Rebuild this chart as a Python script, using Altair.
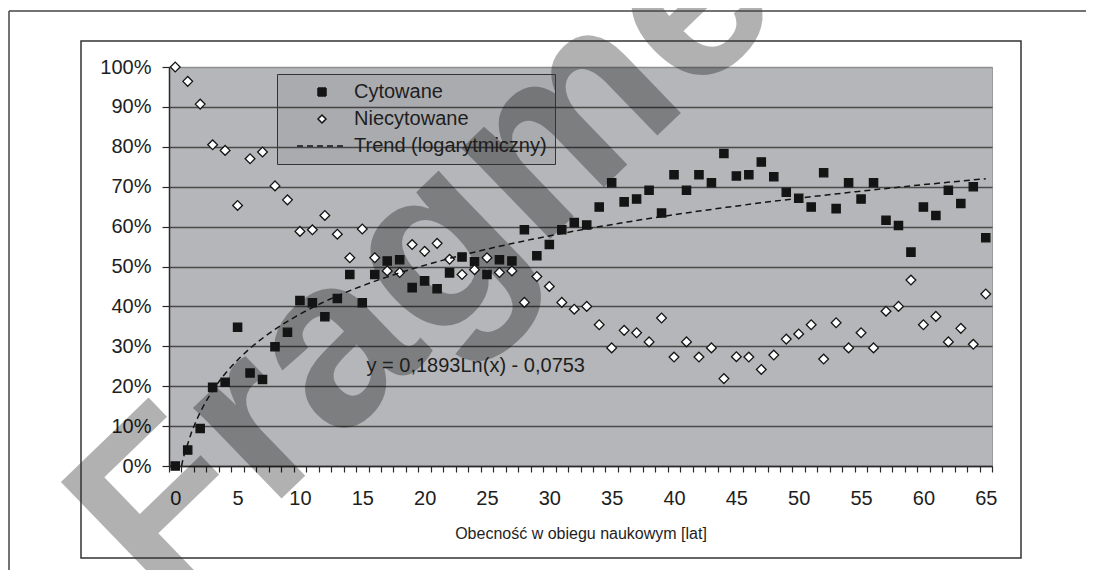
import altair as alt
import pandas as pd

# ---------------- data ----------------
YEARS = list(range(0, 66))
CYTOWANE = [0.0, 4.0, 9.4, 19.7, 21.0, 34.8, 23.3, 21.7, 29.9, 33.5,
            41.5, 40.9, 37.4, 42.0, 48.0, 40.9, 48.0, 51.4, 51.7, 44.7,
            46.4, 44.4, 48.4, 52.4, 51.2, 48.0, 51.7, 51.4, 59.2, 52.7,
            55.5, 59.2, 61.0, 60.4, 64.9, 71.0, 66.2, 66.9, 69.1, 63.4,
            73.0, 69.1, 73.0, 71.0, 78.3, 72.7, 73.0, 76.2, 72.5, 68.6,
            67.1, 64.9, 73.5, 64.5, 71.0, 66.9, 71.0, 61.6, 60.3, 53.6,
            64.9, 62.8, 69.1, 65.8, 70.0, 57.2]
NIECYTOWANE = [100.0, 96.4, 90.7, 80.5, 79.1, 65.3, 77.0, 78.7, 70.2, 66.7,
               58.8, 59.2, 62.8, 58.1, 52.2, 59.4, 52.2, 48.9, 48.5, 55.5,
               53.8, 55.8, 51.8, 48.0, 49.2, 52.2, 48.5, 48.9, 41.0, 47.5,
               45.0, 41.0, 39.3, 40.0, 35.4, 29.6, 34.0, 33.4, 31.1, 37.1,
               27.3, 31.1, 27.3, 29.6, 21.9, 27.4, 27.3, 24.2, 27.8, 31.8,
               33.1, 35.4, 26.8, 35.9, 29.6, 33.4, 29.6, 38.8, 40.0, 46.6,
               35.4, 37.5, 31.1, 34.5, 30.5, 43.1]
SERIES = ["Cytowane", "Niecytowane", "Trend (logarytmiczny)"]
EQUATION = ["y = 0,1893Ln(x) - 0,0753"]
EQ_X = [24.1]
EQ_Y = [0.25]
X_TITLE = "Obecność w obiegu naukowym [lat]"
Y_TICKS = [i / 10 for i in range(11)]
X_TICKS = [i / 2 for i in range(-1, 132)]
WATERMARK = ["Fragment"]

FONT = "Liberation Sans"
TXT = "#1e1e1e"
INK = "#141414"

rows = []
for yr, c, n in zip(YEARS, CYTOWANE, NIECYTOWANE):
    rows.append({"lat": yr, "udzial": c / 100, "seria": SERIES[0]})
    rows.append({"lat": yr, "udzial": n / 100, "seria": SERIES[1]})
df = pd.DataFrame(rows)

x_scale = alt.Scale(domain=[-0.5, 65.5], nice=False, zero=False)
y_scale = alt.Scale(domain=[0, 1], nice=False)

x_axis = alt.Axis(
    values=X_TICKS, grid=False, title=X_TITLE,
    labelExpr="datum.value % 5 === 0 ? format(datum.value, 'd') : ''",
    labelOverlap=False, labelFlush=False, labelPadding=16, labelFontSize=20,
    tickSize=6, tickOpacity={"condition": {"test": "datum.value % 1 !== 0", "value": 1}, "value": 0},
    titleFontSize=16, titleFontWeight="normal", titlePadding=17,
)
y_axis = alt.Axis(
    values=Y_TICKS, format=".0%", grid=True, title=None,
    labelPadding=11, labelFontSize=20, tickSize=7,
    gridColor={"condition": {"test": "datum.value >= 1", "value": "#8e8e8e"}, "value": "#4a4a4a"},
)
X = alt.X("lat:Q", scale=x_scale, axis=x_axis)
Y = alt.Y("udzial:Q", scale=y_scale, axis=y_axis)

shape_scale = alt.Scale(domain=SERIES, range=["square", "diamond", "M-6.25,0L6.25,0"])
fill_scale = alt.Scale(domain=SERIES, range=[INK, "#ffffff", "transparent"])
stroke_scale = alt.Scale(domain=SERIES, range=[INK, INK, INK])
dash_scale = alt.Scale(domain=SERIES, range=[[1, 0], [1, 0], [6, 4]])

legend = alt.Legend(
    title=None, orient="none", legendX=108, legendY=7, direction="vertical",
    labelFont=FONT, labelFontSize=20, labelColor=TXT, labelLimit=400,
    symbolSize=64, symbolStrokeWidth=1.5,
    fillColor="rgba(0,0,0,0.06)", strokeColor="#333333",
    padding=8, rowPadding=7, symbolOffset=27, labelOffset=22,
)

base = alt.Chart(df)

watermark = alt.Chart(pd.DataFrame({"t": WATERMARK})).mark_text(
    font=FONT, fontSize=240, fontWeight="bold", angle=316, align="left",
    baseline="alphabetic", color="#000000", opacity=0.3,
).encode(x=alt.value(-5), y=alt.value(545), text="t:N")

points = base.mark_point(filled=True, strokeWidth=1.3, opacity=1).encode(
    x=X, y=Y,
    shape=alt.Shape("seria:N", scale=shape_scale, legend=legend),
    fill=alt.Fill("seria:N", scale=fill_scale, legend=legend),
    stroke=alt.Stroke("seria:N", scale=stroke_scale, legend=legend),
    size=alt.condition("datum.seria == 'Niecytowane'", alt.value(95), alt.value(68)),
)

trend = base.transform_filter(
    alt.datum.seria == SERIES[0]
).transform_calculate(
    x1="datum.lat + 1"
).transform_regression(
    "x1", "udzial", method="log"
).transform_calculate(
    lat="datum.x1 - 1", seria="'" + SERIES[2] + "'"
).mark_line(clip=True, color=INK, strokeWidth=1.5).encode(
    x=X, y=Y,
    strokeDash=alt.StrokeDash("seria:N", scale=dash_scale, legend=legend),
)

eq = alt.Chart(pd.DataFrame({"lat": EQ_X, "udzial": EQ_Y, "t": EQUATION})).mark_text(
    font=FONT, fontSize=20, color=TXT
).encode(x=X, y=Y, text="t:N")

inner_box = alt.Chart(pd.DataFrame({"a": [0]})).mark_rect(
    fill="transparent", stroke="#333333", strokeWidth=1.5
).encode(x=alt.value(-88), x2=alt.value(852), y=alt.value(-26), y2=alt.value(491))

outer_top = alt.Chart(pd.DataFrame({"a": [0]})).mark_rule(
    color="#444444", strokeWidth=1.5
).encode(x=alt.value(-160), x2=alt.value(930), y=alt.value(-56))
outer_left = alt.Chart(pd.DataFrame({"a": [0]})).mark_rule(
    color="#444444", strokeWidth=1.5
).encode(x=alt.value(-160), y=alt.value(-56), y2=alt.value(520))

chart = alt.layer(
    watermark, points, trend, eq, inner_box, outer_top, outer_left
).properties(
    width=823, height=399,
    padding={"left": 161, "top": 59, "right": 94, "bottom": 104},
    autosize=alt.AutoSizeParams(type="none"),
    background="#ffffff",
).configure_view(
    fill="#b5b6b9", stroke="#9a9a9a", strokeWidth=1
).configure_axis(
    labelFont=FONT, titleFont=FONT, labelColor=TXT, titleColor=TXT,
    domainColor="#2a2a2a", domainWidth=1.5, tickColor="#2a2a2a", tickWidth=1.2,
    gridWidth=1.5,
)

chart.save("out.html", embed_options={"renderer": "svg", "actions": False})
